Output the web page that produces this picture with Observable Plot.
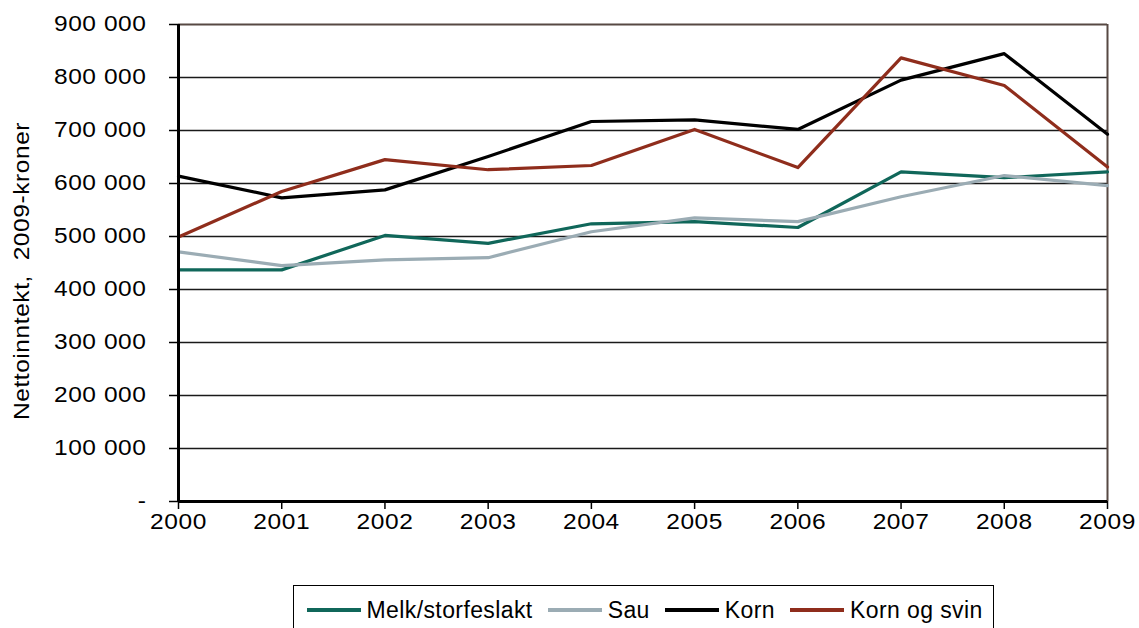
<!DOCTYPE html>
<html>
<head>
<meta charset="utf-8">
<script src="https://cdn.jsdelivr.net/npm/d3@7"></script>
<script src="https://cdn.jsdelivr.net/npm/@observablehq/plot@0.6"></script>
<style>
  html, body { margin: 0; padding: 0; background: #fff; }
  body { width: 1139px; height: 628px; overflow: hidden; position: relative; font-family: "Liberation Sans", Arial, sans-serif; }
  #chart { position: absolute; left: 0; top: 0; }
  #chart text { letter-spacing: 0.5px; }
  #legend { position: absolute; left: 293px; top: 585px; width: 701px; height: 60px; border: 1.5px solid #000; box-sizing: border-box; display: flex; align-items: center; padding-left: 12.5px; padding-bottom: 10px; font-size: 23px; letter-spacing: 0.4px; color: #000; white-space: nowrap; }
  .item { display: flex; align-items: center; flex-shrink: 0; margin-right: 15px; line-height: 26px; white-space: nowrap; }
  .sw { width: 54px; height: 3.5px; margin-right: 6px; flex-shrink: 0; }
</style>
</head>
<body>
<div id="chart"></div>
<div id="legend"></div>
<script>
const years = [2000, 2001, 2002, 2003, 2004, 2005, 2006, 2007, 2008, 2009];
const seriesNames = ["Melk/storfeslakt", "Sau", "Korn", "Korn og svin"];
const seriesColors = ["#10675a", "#9bacb4", "#000000", "#8f2d1c"];
const melk = [437000, 437000, 502000, 487000, 524000, 528000, 517000, 622000, 611000, 622000];
const sau = [471000, 445000, 456000, 460000, 509000, 535000, 528000, 575000, 615000, 596000];
const korn = [614000, 573000, 588000, 651000, 717000, 720000, 702000, 795000, 845000, 693000];
const kornSvin = [499000, 585000, 645000, 626000, 634000, 702000, 630000, 837000, 785000, 631000];
const yTicks = [0, 100000, 200000, 300000, 400000, 500000, 600000, 700000, 800000, 900000];
const yTitle = "Nettoinntekt,  2009-kroner";

const valuesBySeries = [melk, sau, korn, kornSvin];
const data = [];
seriesNames.forEach((name, i) => {
  years.forEach((yr, j) => data.push({series: name, year: yr, value: valuesBySeries[i][j]}));
});

const fmt = d => d === 0 ? "-" : d3.format(",")(d).replace(/,/g, " ");

const chart = Plot.plot({
  width: 1139,
  height: 580,
  marginLeft: 178,
  marginRight: 32,
  marginTop: 24,
  marginBottom: 79,
  style: {fontFamily: "'Liberation Sans', Arial, sans-serif", fontSize: "21.5px", color: "#000", background: "#fff"},
  x: {domain: [2000, 2009]},
  y: {domain: [0, 900000]},
  color: {domain: seriesNames, range: seriesColors},
  marks: [
    Plot.ruleY(yTicks.filter(d => d > 0 && d < 900000), {stroke: "#1a1a1a", strokeWidth: 1.6}),
    Plot.ruleY([900000], {stroke: "#574843", strokeWidth: 2}),
    Plot.ruleX([2009], {stroke: "#574843", strokeWidth: 2}),
    Plot.line(data, {x: "year", y: "value", z: "series", stroke: "series", strokeWidth: 3.2}),
    Plot.ruleX([2000], {stroke: "#000", strokeWidth: 3}),
    Plot.ruleY([0], {stroke: "#000", strokeWidth: 3}),
    Plot.axisY({ticks: yTicks, tickFormat: fmt, tickSize: 9, tickPadding: 23, fontSize: 21.5, label: null, stroke: "#000", strokeWidth: 1.5}),
    Plot.axisX({ticks: years, tickFormat: d => String(d), tickSize: 8, tickPadding: 4, fontSize: 21.5, label: null, stroke: "#000", strokeWidth: 1.5}),
    Plot.text([yTitle], {frameAnchor: "left", textAnchor: "middle", dx: -156, dy: 8, rotate: -90, fontSize: 21.5, fill: "#000"})
  ]
});
document.getElementById("chart").appendChild(chart);

// widen glyphs along the text direction to match the reference's wide face
chart.querySelectorAll("text").forEach(el => {
  const t = el.getAttribute("transform");
  if (t) {
    el.setAttribute("transform", t + " scale(1.14,1)");
  } else {
    const x = +(el.getAttribute("x") || 0), y = +(el.getAttribute("y") || 0);
    el.removeAttribute("x"); el.removeAttribute("y");
    el.setAttribute("transform", `translate(${x},${y}) scale(1.14,1)`);
  }
});

const legend = document.getElementById("legend");
seriesNames.forEach((name, i) => {
  const it = document.createElement("div");
  it.className = "item";
  const sw = document.createElement("span");
  sw.className = "sw";
  sw.style.background = seriesColors[i];
  const t = document.createElement("span");
  t.textContent = name;
  it.appendChild(sw);
  it.appendChild(t);
  legend.appendChild(it);
});
</script>
</body>
</html>
